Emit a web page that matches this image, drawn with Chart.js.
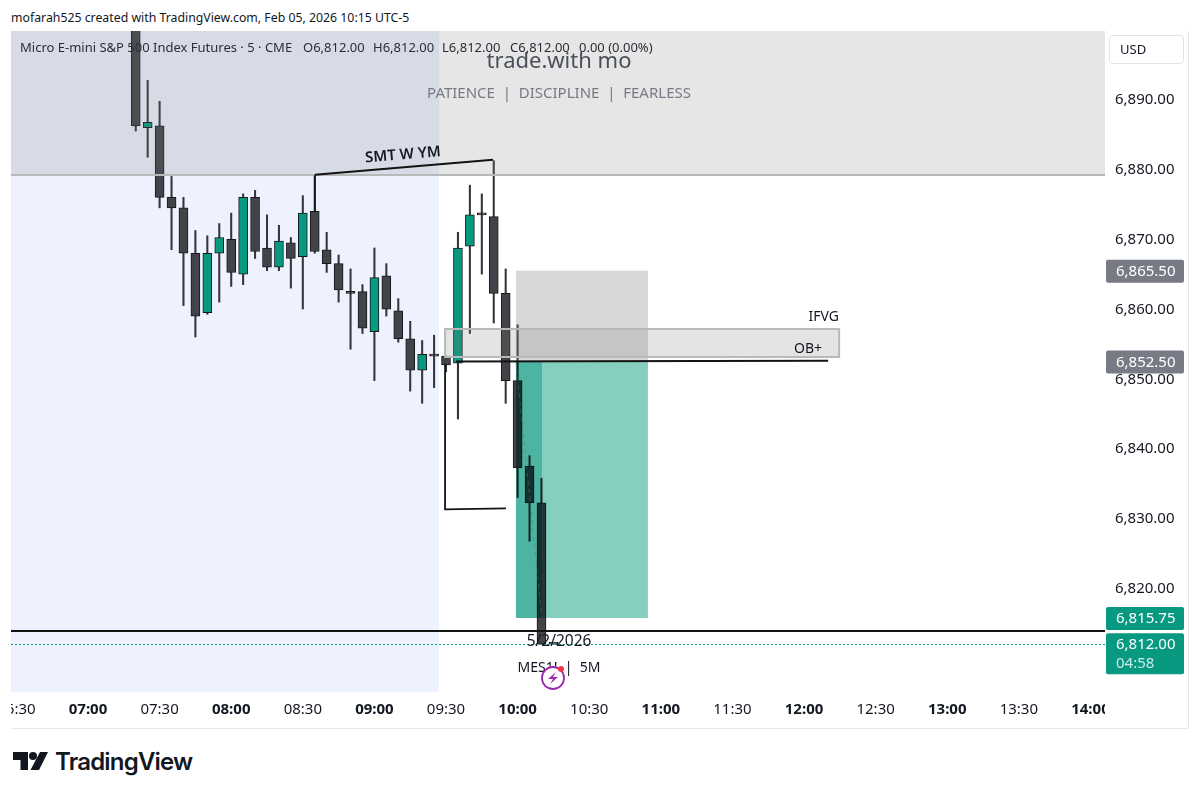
<!DOCTYPE html>
<html>
<head>
<meta charset="utf-8">
<script src="https://cdn.jsdelivr.net/npm/chart.js@4/dist/chart.umd.min.js"></script>
<style>
  body { margin: 0; background: #fff; width: 1200px; height: 796px; overflow: hidden; position: relative; }
  #top { position: absolute; left: 11px; top: 9px; font: 12.3px "Noto Sans"; color: #131722; white-space: nowrap; }
  #wrap { position: absolute; left: 11px; top: 31px; }
  #logo { position: absolute; left: 13px; top: 752px; }
  #brand { position: absolute; left: 55px; top: 747px; font: 600 24px Inter; letter-spacing: -0.8px; color: #131722; }
</style>
</head>
<body>
<div id="top">mofarah525 created with TradingView.com, Feb 05, 2026 10:15 UTC-5</div>
<div id="wrap"><canvas id="chart" width="1178" height="698"></canvas></div>
<svg id="logo" width="36" height="19" viewBox="0 0 36 19"><path d="M0 0H15V18H7.5V8H0Z M27 0H35L26 18H17.5Z" fill="#131722"/><circle cx="20" cy="4" r="4" fill="#131722"/></svg>
<div id="brand">TradingView</div>
<script>
// bars, minutes since midnight (5m chart, 07:20 to 10:15)
const times = [440,445,450,455,460,465,470,475,480,485,490,495,500,505,510,515,520,525,530,535,540,545,550,555,560,565,570,575,580,585,590,595,600,605,610,615];
const opens = [6905,6886,6886.25,6876,6874.5,6868,6859.5,6868,6870,6865,6876,6868.75,6866,6869.5,6867.5,6874,6868.5,6866.5,6862.25,6862.5,6856.75,6864.75,6859.75,6855.75,6851.25,6853.25,6853.25,6852.25,6869,6873.5,6873.25,6862.25,6849.75,6837.5,6832.25,6812];
const highs = [6906,6892.75,6889.75,6879,6876,6871.25,6870.5,6872.25,6873.75,6876.5,6877,6873.5,6872,6870.25,6876.25,6879.25,6871,6867.75,6865.75,6863.5,6868.75,6866.5,6861.5,6858.25,6855.5,6856.25,6853.25,6871,6877.75,6876.5,6881.25,6865.75,6857.75,6839,6835.75,6812];
const lows = [6885.5,6881.75,6874.5,6868.5,6860.5,6856,6859.25,6861,6863.25,6863.5,6867.25,6865.5,6865.5,6863,6860,6868,6865.25,6861,6854.25,6856.5,6849.75,6859,6855.25,6848.25,6846.5,6848.75,6851,6844.25,6856.5,6865,6858,6846.5,6833,6826.75,6812,6812];
const closes = [6886.25,6886.75,6876,6874.5,6868,6859,6868,6870.25,6865.25,6876,6868.25,6866,6869.75,6867.25,6873.75,6868.25,6866.5,6862.75,6862.25,6857.25,6864.5,6860,6855.75,6851.25,6853.5,6853.25,6852,6868.75,6873.5,6873.5,6862.25,6849.75,6837.25,6832.25,6812,6812];

// axis settings
const yRange = [6805.15, 6899.83];
const xRange = [387.74, 846.1];
const hourTick = 60;

// drawings on the chart: [time, price]
const sessionEnd = 567.07;
const resistTop = 6905, resistBottom = 6879.2;
const obBox = [[569.6, 6857.15], [734.7, 6853.13]];
const riskBox = [[599.3, 6865.5], [654.6, 6852.5]];
const rewardBox = [[599.3, 6852.5], [654.6, 6815.75]];
const activeEnd = 610.2;
const tradePath = [[599.3, 6852.5], [610.2, 6815.75]];
const entryLine = [[574.2, 6852.5], [730.1, 6852.6]];
const smtLine = [[515.1, 6879.24], [589.7, 6881.4]];
const bracket = [[569.6, 6852.1], [569.6, 6831.3], [595.1, 6831.46]];
const targetLevel = 6813.9;
const lastPrice = 6812;

// price tags in the axis
const grayTags = [6865.5, 6852.5];
const greenTag = 6815.75;
const countdown = "04:58";

// legend pieces, as shown at the top left
const legendTitle = "Micro E-mini S&P 500 Index Futures · 5 · CME";
const legendValues = ["O6,812.00", "H6,812.00", "L6,812.00", "C6,812.00", "0.00 (0.00%)"];

const UP = "#089981", DOWN = "#434449", EDGE = "#17181b";
const FONT = '"Noto Sans"';
const fmt = v => v.toLocaleString("en-US", { minimumFractionDigits: 2, maximumFractionDigits: 2 });
const pad2 = n => String(n).padStart(2, "0");

function pageText(ctx, str, x, y, font, color, align) {
    ctx.font = font;
    ctx.fillStyle = color;
    ctx.textAlign = align || "left";
    ctx.textBaseline = "middle";
    ctx.fillText(str, x - 11, y - 31);
}

function box(ctx, sx, sy, a, b, color) {
    ctx.fillStyle = color;
    ctx.fillRect(sx(a[0]), sy(a[1]), sx(b[0]) - sx(a[0]), sy(b[1]) - sy(a[1]));
}

function poly(ctx, sx, sy, pts, color, width, dash) {
    ctx.beginPath();
    pts.forEach((p, i) => i ? ctx.lineTo(sx(p[0]), sy(p[1])) : ctx.moveTo(sx(p[0]), sy(p[1])));
    ctx.strokeStyle = color;
    ctx.lineWidth = width;
    ctx.setLineDash(dash || []);
    ctx.stroke();
    ctx.setLineDash([]);
}

function tag(ctx, y, h, color) {
    ctx.fillStyle = color;
    ctx.beginPath();
    ctx.roundRect(1106 - 11, y, 78, h, 2);
    ctx.fill();
}

const drawings = {
    id: "drawings",
    beforeDatasetsDraw(chart) {
        const { ctx, chartArea: a, scales: { x } } = chart;
        ctx.fillStyle = "#edf2fe";
        ctx.fillRect(a.left, a.top, x.getPixelForValue(sessionEnd) - a.left, a.height);
    },
    afterDatasetsDraw(chart) {
        const { ctx, chartArea: a, scales: { x, y } } = chart;
        const sx = v => x.getPixelForValue(v), sy = v => y.getPixelForValue(v);
        ctx.save();
        ctx.beginPath();
        ctx.rect(a.left, a.top, a.width, a.height);
        ctx.clip();

        // resistance zone over the top of the chart
        box(ctx, sx, sy, [xRange[0], resistTop], [xRange[1], resistBottom], "rgba(120,120,120,0.19)");
        poly(ctx, sx, sy, [[xRange[0], resistBottom], [xRange[1], resistBottom]], "#b9b9b9", 2);

        // position boxes, multiplied so the candles under them go dark teal
        box(ctx, sx, sy, riskBox[0], riskBox[1], "rgba(120,120,120,0.29)");
        ctx.globalCompositeOperation = "multiply";
        box(ctx, sx, sy, rewardBox[0], rewardBox[1], "#85cfbf");
        box(ctx, sx, sy, rewardBox[0], [activeEnd, rewardBox[1][1]], "#94ded9");
        ctx.globalCompositeOperation = "source-over";
        poly(ctx, sx, sy, tradePath, "rgba(90,110,110,0.55)", 1, [4, 4]);

        // order block
        box(ctx, sx, sy, obBox[0], obBox[1], "rgba(120,120,120,0.2)");
        ctx.strokeStyle = "#b9b9b9";
        ctx.lineWidth = 2;
        ctx.strokeRect(sx(obBox[0][0]), sy(obBox[0][1]), sx(obBox[1][0]) - sx(obBox[0][0]), sy(obBox[1][1]) - sy(obBox[0][1]));

        poly(ctx, sx, sy, entryLine, "#131313", 2);
        poly(ctx, sx, sy, smtLine, "#131313", 2);
        poly(ctx, sx, sy, [smtLine[0], [smtLine[0][0], 6874]], "#131313", 1.5);
        poly(ctx, sx, sy, bracket, "#131313", 1.8);
        poly(ctx, sx, sy, [[xRange[0], targetLevel], [xRange[1], targetLevel]], "#131313", 2);

        // last price, snapped to a whole pixel so the dots stay crisp
        const lastY = Math.round(sy(lastPrice)) + 0.5;
        ctx.beginPath();
        ctx.moveTo(a.left, lastY);
        ctx.lineTo(a.right, lastY);
        ctx.strokeStyle = UP;
        ctx.lineWidth = 1;
        ctx.setLineDash([2, 2]);
        ctx.stroke();
        ctx.setLineDash([]);
        ctx.restore();

        // legend and watermark
        const legendFont = "13px " + FONT;
        pageText(ctx, legendTitle, 20, 48, legendFont, "#2a2e39");
        [303, 373, 442, 510, 579].forEach((px, i) => pageText(ctx, legendValues[i], px, 48, legendFont, "#2a2e39"));
        pageText(ctx, "trade.with mo", 559, 62, "22px " + FONT, "#4b4f5a", "center");
        pageText(ctx, "PATIENCE  |  DISCIPLINE  |  FEARLESS", 559, 94, "15px " + FONT, "#787b86", "center");

        // notes
        ctx.save();
        ctx.translate(403 - 11, 155 - 31);
        ctx.rotate(-0.085);
        ctx.font = "600 15px " + FONT;
        ctx.fillStyle = "#131722";
        ctx.textAlign = "center";
        ctx.textBaseline = "middle";
        ctx.fillText("SMT W YM", 0, 0);
        ctx.restore();
        pageText(ctx, "IFVG", 839, 317, "14px " + FONT, "#131722", "right");
        pageText(ctx, "OB+", 822, 349, "14px " + FONT, "#131722", "right");
        pageText(ctx, "5/2/2026", 559, 642, "15.5px " + FONT, "#131722", "center");
        pageText(ctx, "MES1!  |  5M", 559, 668, "14px " + FONT, "#131722", "center");

        // alert badge
        ctx.beginPath();
        ctx.arc(553 - 11, 678 - 31, 11, 0, Math.PI * 2);
        ctx.fillStyle = "#fff";
        ctx.fill();
        ctx.strokeStyle = "#9c27b0";
        ctx.lineWidth = 1.8;
        ctx.stroke();
        ctx.beginPath();
        ctx.moveTo(556 - 11, 672 - 31);
        ctx.lineTo(548 - 11, 679 - 31);
        ctx.lineTo(553 - 11, 679 - 31);
        ctx.lineTo(550 - 11, 684 - 31);
        ctx.lineTo(558 - 11, 677 - 31);
        ctx.lineTo(553 - 11, 677 - 31);
        ctx.closePath();
        ctx.fillStyle = "#9c27b0";
        ctx.fill();
        ctx.beginPath();
        ctx.arc(561 - 11, 669 - 31, 3, 0, Math.PI * 2);
        ctx.fillStyle = "#f23645";
        ctx.fill();
    },
    afterDraw(chart) {
        const { ctx, scales: { y } } = chart;
        const sy = v => y.getPixelForValue(v);

        // cut the time labels at the pane edge, then the panel frame
        ctx.fillStyle = "#fff";
        ctx.fillRect(1105 - 11, 692 - 31, 83, 36);
        ctx.strokeStyle = "#e6e8ee";
        ctx.lineWidth = 1;
        ctx.beginPath();
        ctx.moveTo(1188.5 - 11, 0);
        ctx.lineTo(1188.5 - 11, 697.5);
        ctx.lineTo(0, 697.5);
        ctx.stroke();

        // currency box
        ctx.strokeStyle = "#e0e3eb";
        ctx.beginPath();
        ctx.roundRect(1109.5 - 11, 35.5 - 31, 74, 28, 3);
        ctx.stroke();
        pageText(ctx, "USD", 1120, 50, "13px " + FONT, "#131722");

        // price tags
        grayTags.forEach(v => {
            tag(ctx, sy(v) - 11, 23, "#787b86");
            pageText(ctx, fmt(v), 1116, sy(v) + 32, "15px " + FONT, "#fff");
        });
        tag(ctx, sy(greenTag) - 11, 23, UP);
        pageText(ctx, fmt(greenTag), 1116, sy(greenTag) + 32, "15px " + FONT, "#fff");
        tag(ctx, sy(lastPrice) - 11, 41, UP);
        pageText(ctx, fmt(lastPrice), 1116, sy(lastPrice) + 32, "15px " + FONT, "#fff");
        pageText(ctx, countdown, 1116, sy(lastPrice) + 51, "15px " + FONT, "#c9ece4");
    }
};

new Chart(document.getElementById("chart"), {
    type: "bar",
    data: {
        datasets: [
            {
                // candle bodies
                data: times.map((t, i) => ({ x: t, y: [opens[i], closes[i]] })),
                backgroundColor: times.map((t, i) => closes[i] > opens[i] ? UP : DOWN),
                borderColor: EDGE,
                borderWidth: 1,
                borderSkipped: false,
                barThickness: 9,
                minBarLength: 2,
                grouped: false,
                order: 1
            },
            {
                // wicks
                data: times.map((t, i) => ({ x: t, y: [lows[i], highs[i]] })),
                backgroundColor: "#33353a",
                borderWidth: 0,
                barThickness: 1.4,
                grouped: false,
                order: 2
            }
        ]
    },
    options: {
        responsive: false,
        animation: false,
        events: [],
        layout: { padding: 0 },
        plugins: { legend: { display: false }, tooltip: { enabled: false } },
        scales: {
            x: {
                type: "linear",
                offset: false,
                min: xRange[0],
                max: xRange[1],
                grid: { display: false, drawTicks: false },
                border: { display: false },
                afterFit(s) { s.height = 37; s.paddingLeft = 0; s.paddingRight = 0; },
                ticks: {
                    stepSize: 30,
                    includeBounds: false,
                    autoSkip: false,
                    maxRotation: 0,
                    padding: 9,
                    color: "#131722",
                    font: c => ({ family: FONT, size: 15, weight: c.tick && c.tick.value % hourTick === 0 ? "bold" : "normal" }),
                    callback: v => pad2(Math.floor(v / 60)) + ":" + pad2(v % 60)
                }
            },
            y: {
                position: "right",
                min: yRange[0],
                max: yRange[1],
                grid: { display: false, drawTicks: false },
                border: { display: false },
                afterFit(s) { s.width = 84; s.paddingTop = 0; s.paddingBottom = 0; },
                ticks: {
                    stepSize: 10,
                    includeBounds: false,
                    padding: 10,
                    labelOffset: 0.5,
                    color: "#131722",
                    font: { family: FONT, size: 15 },
                    callback: v => fmt(v)
                }
            }
        }
    },
    plugins: [drawings]
});
</script>
</body>
</html>
